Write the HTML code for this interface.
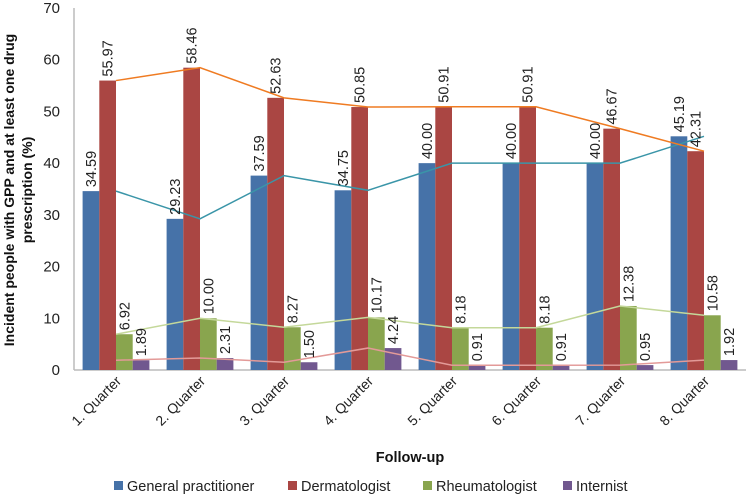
<!DOCTYPE html>
<html><head><meta charset="utf-8"><style>
body{margin:0;background:#fff;width:750px;height:499px;overflow:hidden;font-family:"Liberation Sans",sans-serif}
</style></head><body>
<svg id="c" width="750" height="499" font-family="Liberation Sans, sans-serif"></svg>
<script>
const categories=["1. Quarter","2. Quarter","3. Quarter","4. Quarter","5. Quarter","6. Quarter","7. Quarter","8. Quarter"];
const seriesNames=["General practitioner","Dermatologist","Rheumatologist","Internist"];
const gp=[34.59,29.23,37.59,34.75,40.00,40.00,40.00,45.19];
const derm=[55.97,58.46,52.63,50.85,50.91,50.91,46.67,42.31];
const rheum=[6.92,10.00,8.27,10.17,8.18,8.18,12.38,10.58];
const intern=[1.89,2.31,1.50,4.24,0.91,0.91,0.95,1.92];
const yTicks=[0,10,20,30,40,50,60,70];
const series=[gp,derm,rheum,intern];
const barColors=["#4672a8","#aa4643","#89a54e","#71588f"];
const lineColors=["#3a95a8","#ef7b22","#c4d89a","#e39a98"];
const svg=document.getElementById('c');const NS="http://www.w3.org/2000/svg";
function mk(t,a,p){const e=document.createElementNS(NS,t);for(const k in a)e.setAttribute(k,a[k]);(p||svg).appendChild(e);return e;}
const X0=74,X1=746,Y0=370,Y1=8,YMAX=70;
const gw=(X1-X0)/categories.length,bw=16.7;
const y=v=>Y0-(v/YMAX)*(Y0-Y1);
const cx=i=>X0+gw*(i+0.5);
let e=mk('line',{x1:X0,y1:Y1,x2:X0,y2:Y0,stroke:'#bbb','stroke-width':1.5});

e=mk('line',{x1:X0,y1:Y0,x2:X1,y2:Y0,stroke:'#bbb','stroke-width':1.5});

yTicks.forEach(t=>{e=mk('text',{x:X0-14,y:y(t)+5,'text-anchor':'end','font-size':15,fill:'#222'});e.textContent=t;
});
series.forEach((s,si)=>s.forEach((v,i)=>{const bx=cx(i)-2*bw+si*bw;
e=mk('rect',{x:bx,y:y(v),width:bw,height:Y0-y(v),fill:barColors[si]});
}));
series.forEach((s,si)=>{e=mk('polyline',{points:s.map((v,i)=>cx(i)+','+y(v)).join(' '),fill:'none',stroke:lineColors[si],'stroke-width':1.5});
});
series.forEach((s,si)=>s.forEach((v,i)=>{const bx=cx(i)-2*bw+si*bw+bw/2+5,by=y(v)-4;
e=mk('text',{x:bx,y:by,transform:`rotate(-90 ${bx} ${by})`,'font-size':14.5,fill:'#222'});e.textContent=v.toFixed(2);
}));
categories.forEach((c,i)=>{const tx=cx(i)+6,ty=Y0+12;
e=mk('text',{x:tx,y:ty,transform:`rotate(-45 ${tx} ${ty})`,'text-anchor':'end','font-size':14,fill:'#222'});e.textContent=c;
});
e=mk('text',{x:410,y:462,'text-anchor':'middle','font-size':14.5,'font-weight':'bold',fill:'#111'});e.textContent='Follow-up';

const g=mk('g',{transform:'translate(14,190) rotate(-90)'});

e=mk('text',{x:0,y:0,'text-anchor':'middle','font-size':14,'font-weight':'bold',fill:'#111'},g);e.textContent='Incident people with GPP and at least one drug';
e=mk('text',{x:0,y:18,'text-anchor':'middle','font-size':14,'font-weight':'bold',fill:'#111'},g);e.textContent='prescription (%)';
const lx=[114,288,423,563];
seriesNames.forEach((n,i)=>{const lg=mk('g',{});
mk('rect',{x:lx[i],y:481,width:9,height:9,fill:barColors[i]},lg);
const t=mk('text',{x:lx[i]+13,y:491,'font-size':14.5,fill:'#222'},lg);t.textContent=n;});
</script>
</body></html>
